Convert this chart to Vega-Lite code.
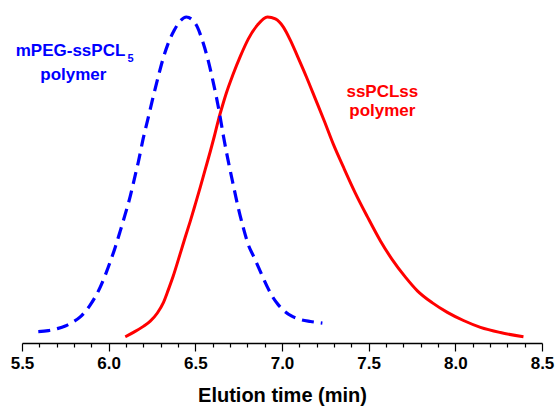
{
  "$schema": "https://vega.github.io/schema/vega-lite/v6.json",
  "width": 520,
  "height": 326,
  "autosize": {"type": "none"},
  "padding": {"left": 22, "top": 17, "right": 14, "bottom": 74},
  "background": "white",
  "config": {"view": {"stroke": null}},
  "datasets": {
    "blue": [
      {"t": 5.594, "v": 0.035}, {"t": 5.652, "v": 0.038}, {"t": 5.704, "v": 0.044},
      {"t": 5.750, "v": 0.052}, {"t": 5.790, "v": 0.063}, {"t": 5.836, "v": 0.080},
      {"t": 5.894, "v": 0.117}, {"t": 5.952, "v": 0.172}, {"t": 5.998, "v": 0.233},
      {"t": 6.038, "v": 0.294}, {"t": 6.067, "v": 0.344}, {"t": 6.096, "v": 0.396},
      {"t": 6.125, "v": 0.451}, {"t": 6.148, "v": 0.503}, {"t": 6.171, "v": 0.555},
      {"t": 6.200, "v": 0.629}, {"t": 6.229, "v": 0.693}, {"t": 6.258, "v": 0.758},
      {"t": 6.287, "v": 0.819}, {"t": 6.315, "v": 0.874}, {"t": 6.344, "v": 0.920},
      {"t": 6.379, "v": 0.960}, {"t": 6.413, "v": 0.988}, {"t": 6.448, "v": 1.000},
      {"t": 6.483, "v": 0.991}, {"t": 6.512, "v": 0.969}, {"t": 6.540, "v": 0.929},
      {"t": 6.569, "v": 0.877}, {"t": 6.604, "v": 0.798}, {"t": 6.639, "v": 0.706},
      {"t": 6.662, "v": 0.635}, {"t": 6.685, "v": 0.571}, {"t": 6.714, "v": 0.497},
      {"t": 6.748, "v": 0.414}, {"t": 6.777, "v": 0.353}, {"t": 6.806, "v": 0.301},
      {"t": 6.835, "v": 0.267}, {"t": 6.864, "v": 0.233}, {"t": 6.892, "v": 0.199},
      {"t": 6.921, "v": 0.166}, {"t": 6.950, "v": 0.138}, {"t": 6.979, "v": 0.117},
      {"t": 7.014, "v": 0.098}, {"t": 7.054, "v": 0.083}, {"t": 7.106, "v": 0.072},
      {"t": 7.164, "v": 0.066}, {"t": 7.233, "v": 0.061}
    ],
    "red": [
      {"t": 6.096, "v": 0.019}, {"t": 6.148, "v": 0.034}, {"t": 6.200, "v": 0.051},
      {"t": 6.240, "v": 0.067}, {"t": 6.281, "v": 0.092}, {"t": 6.315, "v": 0.123},
      {"t": 6.344, "v": 0.163}, {"t": 6.373, "v": 0.206}, {"t": 6.396, "v": 0.245},
      {"t": 6.419, "v": 0.285}, {"t": 6.442, "v": 0.325}, {"t": 6.471, "v": 0.374},
      {"t": 6.500, "v": 0.426}, {"t": 6.529, "v": 0.479}, {"t": 6.558, "v": 0.534},
      {"t": 6.587, "v": 0.589}, {"t": 6.610, "v": 0.635}, {"t": 6.633, "v": 0.684},
      {"t": 6.656, "v": 0.727}, {"t": 6.679, "v": 0.767}, {"t": 6.714, "v": 0.819},
      {"t": 6.760, "v": 0.880}, {"t": 6.806, "v": 0.933}, {"t": 6.858, "v": 0.975},
      {"t": 6.916, "v": 1.000}, {"t": 6.962, "v": 0.994}, {"t": 7.008, "v": 0.969},
      {"t": 7.048, "v": 0.929}, {"t": 7.089, "v": 0.880}, {"t": 7.141, "v": 0.816},
      {"t": 7.193, "v": 0.748}, {"t": 7.244, "v": 0.681}, {"t": 7.296, "v": 0.610},
      {"t": 7.354, "v": 0.540}, {"t": 7.423, "v": 0.460}, {"t": 7.493, "v": 0.387},
      {"t": 7.568, "v": 0.313}, {"t": 7.637, "v": 0.255}, {"t": 7.712, "v": 0.202},
      {"t": 7.781, "v": 0.160}, {"t": 7.868, "v": 0.123}, {"t": 7.954, "v": 0.094},
      {"t": 8.047, "v": 0.069}, {"t": 8.145, "v": 0.048}, {"t": 8.260, "v": 0.032},
      {"t": 8.393, "v": 0.019}
    ],
    "labels": [
      {"text": "polymer", "t": 5.796, "v": 0.807, "series": "mPEG"},
      {"text": "ssPCLss", "t": 7.579, "v": 0.755, "series": "ss"},
      {"text": "polymer", "t": 7.579, "v": 0.696, "series": "ss"}
    ],
    "main": [
      {"text": "mPEG-ssPCL", "t": 6.096, "v": 0.880}
    ],
    "sub": [
      {"text": "5", "t": 6.108, "v": 0.862}
    ]
  },
  "layer": [
    {
      "data": {"name": "red"},
      "mark": {"type": "line", "color": "#FF0000", "strokeWidth": 3, "interpolate": "monotone"},
      "encoding": {
        "x": {
          "field": "t", "type": "quantitative",
          "scale": {"domain": [5.5, 8.5], "nice": false, "zero": false},
          "axis": {
            "values": [5.5, 5.6, 5.7, 5.8, 5.9, 6.0, 6.1, 6.2, 6.3, 6.4, 6.5, 6.6, 6.7, 6.8, 6.9, 7.0, 7.1, 7.2, 7.3, 7.4, 7.5, 7.6, 7.7, 7.8, 7.9, 8.0, 8.1, 8.2, 8.3, 8.4, 8.5],
            "tickCount": 100,
            "labelExpr": "abs(datum.value*2 - round(datum.value*2)) < 0.001 ? format(datum.value, '.1f') : ''",
            "tickSize": {"condition": {"test": "abs(datum.value*2 - round(datum.value*2)) < 0.001", "value": 8}, "value": 4},
            "labelOverlap": false,
            "labelFlush": false,
            "grid": false,
            "domainColor": "#000000",
            "domainWidth": 1.5,
            "tickColor": "#000000",
            "tickWidth": 1.2,
            "labelFont": "Liberation Sans",
            "labelFontWeight": "bold",
            "labelFontSize": 17,
            "labelColor": "#000000",
            "labelPadding": 4,
            "title": "Elution time (min)",
            "titleFont": "Liberation Sans",
            "titleFontWeight": "bold",
            "titleFontSize": 20,
            "titleColor": "#000000",
            "titlePadding": 14
          }
        },
        "y": {
          "field": "v", "type": "quantitative",
          "scale": {"domain": [0, 1], "nice": false},
          "axis": null
        }
      }
    },
    {
      "data": {"name": "blue"},
      "mark": {"type": "line", "color": "#0000FF", "strokeWidth": 3.2, "strokeDash": [12, 7], "interpolate": "monotone"},
      "encoding": {
        "x": {"field": "t", "type": "quantitative"},
        "y": {"field": "v", "type": "quantitative"}
      }
    },
    {
      "data": {"name": "labels"},
      "mark": {"type": "text", "font": "Liberation Sans", "fontWeight": "bold", "fontSize": 17, "align": "center", "baseline": "alphabetic"},
      "encoding": {
        "x": {"field": "t", "type": "quantitative"},
        "y": {"field": "v", "type": "quantitative"},
        "text": {"field": "text"},
        "color": {"field": "series", "type": "nominal", "scale": {"domain": ["mPEG", "ss"], "range": ["#0000FF", "#FF0000"]}, "legend": null}
      }
    },
    {
      "data": {"name": "main"},
      "mark": {"type": "text", "font": "Liberation Sans", "fontWeight": "bold", "fontSize": 17, "align": "right", "baseline": "alphabetic", "color": "#0000FF"},
      "encoding": {
        "x": {"field": "t", "type": "quantitative"},
        "y": {"field": "v", "type": "quantitative"},
        "text": {"field": "text"}
      }
    },
    {
      "data": {"name": "sub"},
      "mark": {"type": "text", "font": "Liberation Sans", "fontWeight": "bold", "fontSize": 11, "align": "left", "baseline": "alphabetic", "color": "#0000FF"},
      "encoding": {
        "x": {"field": "t", "type": "quantitative"},
        "y": {"field": "v", "type": "quantitative"},
        "text": {"field": "text"}
      }
    }
  ]
}
